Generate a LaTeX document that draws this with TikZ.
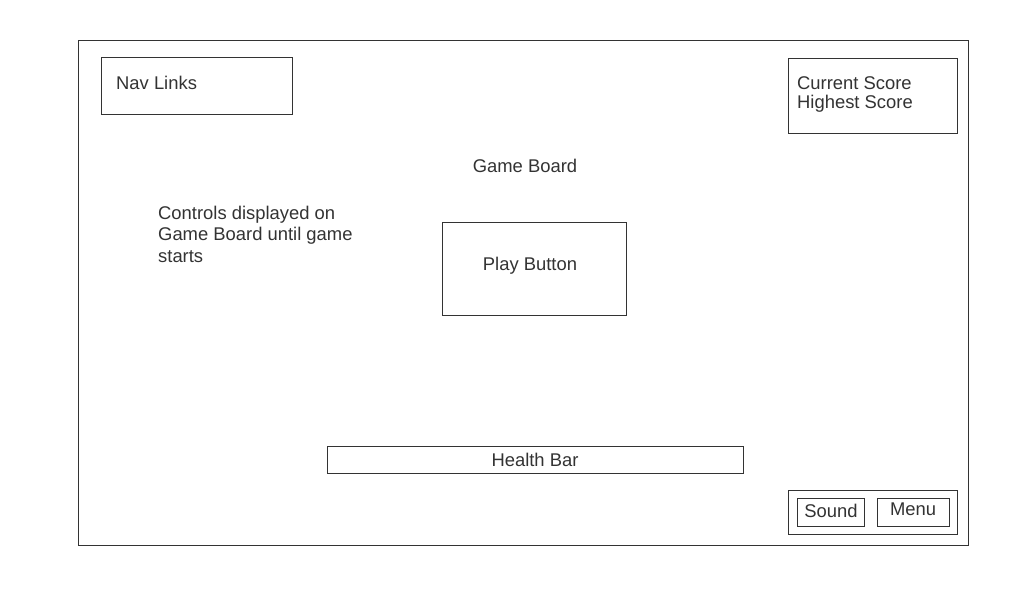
\documentclass[tikz,border=0pt]{standalone}
\usepackage{fontspec}
\setmainfont{Liberation Sans}
\definecolor{ink}{HTML}{333333}
\tikzset{
  box/.style={draw=ink,line width=0.9pt,inner sep=0pt,anchor=north west},
  txt/.style={text=ink,font=\fontsize{18.4}{21}\selectfont,inner sep=0pt,yshift=0pt},
}
\begin{document}
\begin{tikzpicture}[x=1pt,y=-1pt]
\useasboundingbox[fill=white] (0,0) rectangle (1024,600);
\node[box,minimum width=890pt,minimum height=505pt] (board) at (78,40) {};
\node[box,minimum width=191pt,minimum height=57pt] (nav) at (101,57) {};
\node[txt,anchor=west] (navtext) at (116,83) {Nav Links};
\node[box,minimum width=169pt,minimum height=75pt] (score) at (788,58) {};
\node[txt,anchor=west] (current) at (797,83) {Current Score};
\node[txt,anchor=west] (highest) at (797,104) {Highest Score};
\node[txt] (boardtext) at (525,166) {Game Board};
\node[txt,anchor=west] (ctrl1) at (158,215) {Controls displayed on};
\node[txt,anchor=west] (ctrl2) at (158,236) {Game Board until game};
\node[txt,anchor=west] (ctrl3) at (158,257) {starts};
\node[box,minimum width=184pt,minimum height=93pt] (play) at (442,222) {};
\node[txt] (playtext) at (530,266) {Play Button};
\node[box,minimum width=416pt,minimum height=27pt] (health) at (327,446) {};
\node[txt] (healthtext) at (535,460) {Health Bar};
\node[box,minimum width=169pt,minimum height=44pt] (tools) at (788,490) {};
\node[box,minimum width=67pt,minimum height=28pt] (sound) at (797,498) {};
\node[txt] (soundtext) at (831,511) {Sound};
\node[box,minimum width=72pt,minimum height=28pt] (menu) at (877,498) {};
\node[txt] (menutext) at (913,509) {Menu};
\end{tikzpicture}
\end{document}
